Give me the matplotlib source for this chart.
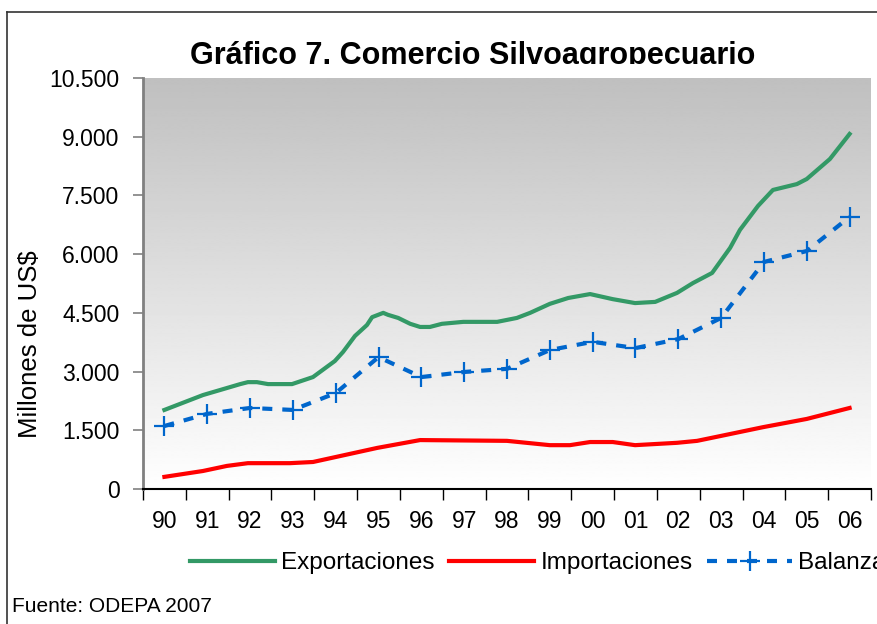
import numpy as np
import matplotlib
matplotlib.use('Agg')
import matplotlib.pyplot as plt
from matplotlib.lines import Line2D
from matplotlib.transforms import Bbox, TransformedBbox

plt.rcParams['font.family'] = ['Liberation Sans', 'DejaVu Sans']

# year labels on the category axis
years = ['90', '91', '92', '93', '94', '95', '96', '97', '98', '99',
         '00', '01', '02', '03', '04', '05', '06']

# exports (fractional year, million US$)
exp_year = [1990.0, 1990.9, 1991.46, 1991.77, 1991.95, 1992.16, 1992.42, 1992.98,
            1993.47, 1993.98, 1994.17, 1994.45, 1994.73, 1994.85, 1995.11, 1995.22,
            1995.46, 1995.74, 1995.97, 1996.2, 1996.48, 1996.98, 1997.77, 1998.23,
            1998.54, 1999.0, 1999.43, 1999.94, 2000.47, 2000.99, 2001.46, 2001.97,
            2002.34, 2002.79, 2003.21, 2003.44, 2003.86, 2004.21, 2004.77, 2005.0,
            2005.54, 2006.0]
exp_val = [2020, 2400, 2580, 2680, 2730, 2730, 2680, 2680,
           2860, 3270, 3500, 3910, 4190, 4390, 4500, 4450,
           4370, 4220, 4140, 4140, 4220, 4270, 4270, 4370,
           4500, 4730, 4880, 4980, 4850, 4750, 4780, 5010,
           5260, 5520, 6160, 6620, 7230, 7640, 7790, 7920,
           8430, 9070]

# imports
imp_year = [1990.0, 1990.9, 1991.46, 1991.95, 1992.93, 1993.47, 1994.97, 1995.97,
            1998.0, 1999.0, 1999.47, 1999.94, 2000.47, 2000.99, 2001.97, 2002.44,
            2002.97, 2003.98, 2005.0, 2006.0]
imp_val = [310, 460, 590, 660, 660, 690, 1050, 1250,
           1230, 1120, 1120, 1200, 1200, 1120, 1180, 1230,
           1350, 1580, 1790, 2070]

# trade balance, one value per year
bal_val = [1610, 1920, 2070, 2020, 2450, 3370, 2860, 2990, 3070,
           3550, 3760, 3600, 3830, 4370, 5800, 6080, 6950]

W, H = 877, 624
fig = plt.figure(figsize=(W / 100, H / 100), dpi=100)
ax = fig.add_axes([143 / W, 1 - 489 / H, 728 / W, 411 / H])

# gray-to-white gradient behind the plot (gray at the top)
grad = np.linspace(0.75, 1.0, 256).reshape(-1, 1)
ax.imshow(grad, extent=(-0.5, 16.5, 0, 10500), origin='upper', aspect='auto',
          cmap='gray', vmin=0, vmax=1, zorder=0, interpolation='bilinear')

x_exp = np.array(exp_year) - 1990
x_imp = np.array(imp_year) - 1990
x_bal = np.arange(len(bal_val))

ax.plot(x_exp, exp_val, color='#339966', lw=3, solid_joinstyle='round',
        label='Exportaciones', zorder=3)
ax.plot(x_imp, imp_val, color='#ff0000', lw=3, solid_joinstyle='round',
        label='Importaciones', zorder=3)
ax.plot(x_bal, bal_val, color='#0066cc', lw=3, linestyle=(0, (2.4, 2.4)),
        marker='+', markersize=15, markeredgewidth=1.6,
        label='Balanza', zorder=4)

ax.set_xlim(-0.5, 16.5)
ax.set_ylim(0, 10500)

yt = np.arange(0, 10501, 1500)
ax.set_yticks(yt)
ax.set_yticklabels(['{:,.0f}'.format(v).replace(',', '.') for v in yt])
ax.tick_params(axis='y', direction='out', length=7, width=1.2,
               color='#808080', labelsize=16.5, pad=10)

ax.set_xticks(x_bal)
ax.set_xticklabels(years)
ax.set_xticks(np.arange(-0.5, 17, 1), minor=True)
ax.tick_params(axis='x', which='major', length=0, labelsize=16.5, pad=15)
ax.tick_params(axis='x', which='minor', direction='out', length=8, width=1,
               color='black')

for s in ['top', 'right']:
    ax.spines[s].set_visible(False)
ax.spines['left'].set_color('#808080')
ax.spines['left'].set_linewidth(2)
ax.spines['bottom'].set_color('black')
ax.spines['bottom'].set_linewidth(1.5)

# title, cut off at its baseline like in the source
t = fig.text(473 / W, 1 - 64 / H, 'Gráfico 7. Comercio Silvoagropecuario',
             ha='center', va='baseline', fontsize=22, fontweight='bold',
             zorder=-1)
t.set_clip_box(TransformedBbox(Bbox([[0, 1 - 63.5 / H], [1, 1]]),
                               fig.transFigure))
t.set_clip_on(True)

fig.text(30 / W, 1 - 344 / H, 'Millones de US$', rotation=90,
         ha='center', va='center', fontsize=18.5)

fig.legend(loc='center left', bbox_to_anchor=(190 / W, 1 - 563 / H), ncol=3,
           frameon=False, fontsize=17.5, handlelength=3.5, handletextpad=0.25,
           columnspacing=0.6, borderaxespad=0, borderpad=0, numpoints=1)

fig.text(12 / W, 1 - 607 / H, 'Fuente: ODEPA 2007', ha='left', va='center',
         fontsize=15)

# outer chart border (right and bottom sides fall outside the picture)
fig.add_artist(Line2D([7 / W, 7 / W], [0, 1 - 12 / H], transform=fig.transFigure,
                      color='#333333', lw=1.2))
fig.add_artist(Line2D([7 / W, 1], [1 - 12 / H, 1 - 12 / H],
                      transform=fig.transFigure, color='#333333', lw=1.2))

fig.savefig('out.png', dpi=100)
